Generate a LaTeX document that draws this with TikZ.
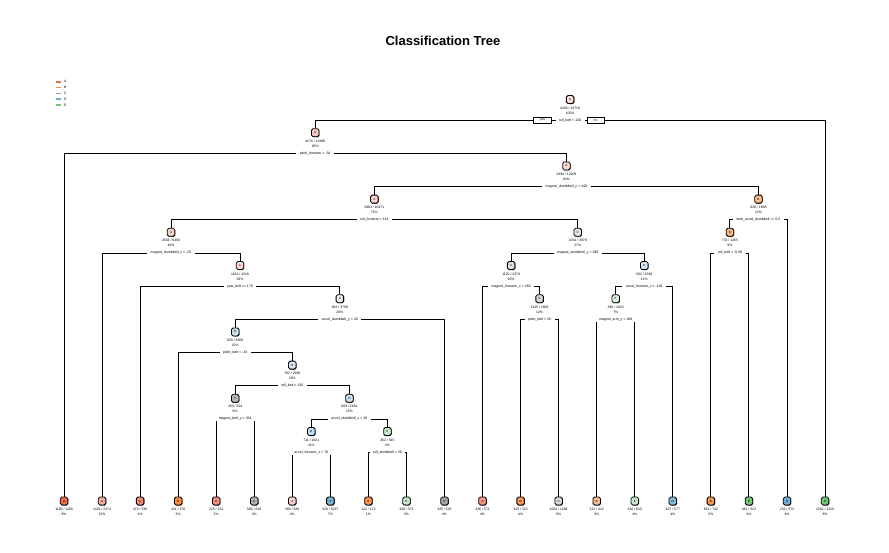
\documentclass[tikz,border=0pt]{standalone}
\usepackage{fontspec}
\setmainfont{Liberation Sans}
\usetikzlibrary{shadows}
\definecolor{cA}{HTML}{EF6A4C}
\definecolor{cB}{HTML}{F88D3F}
\definecolor{cC}{HTML}{9A9A9A}
\definecolor{cD}{HTML}{6BAED6}
\definecolor{cE}{HTML}{74C476}
\newcommand\TNode[7]{%
  \node[treebox,fill=#4] (#1) at (#2,#3) {#5};
  \node[info] (#1c) at (#2,#3+8.3) {#6};
  \node[info] (#1p) at (#2,#3+13.4) {#7};
  \coordinate (#1s) at (#2,#3+20.7);}
\newcommand\TSplit[3]{%
  \draw[edge] (#1s) -| (#2.north);
  \draw[edge] (#1s) -| (#3.north);}
\begin{document}
\begin{tikzpicture}[x=1pt,y=-1pt,
  treebox/.style={draw=black,line width=0.8pt,rounded corners=1.6pt,
    minimum width=7.5pt,minimum height=8pt,inner sep=0pt,
    font=\fontsize{3}{3}\selectfont,
    drop shadow={shadow xshift=0.5pt,shadow yshift=-0.5pt,fill=black!80,opacity=1}},
  info/.style={inner sep=0pt,font=\fontsize{3.4}{3.4}\selectfont},
  splitlab/.style={fill=white,inner xsep=3.5pt,inner ysep=0.8pt,font=\fontsize{3.5}{3.5}\selectfont},
  yn/.style={draw=black,line width=0.9pt,fill=white,minimum width=18pt,minimum height=6.5pt,inner sep=0pt,font=\fontsize{3.4}{3.4}\selectfont},
  edge/.style={line width=0.9pt,black}]
\useasboundingbox (0,0) rectangle (889,552);
\fill[white] (0,0) rectangle (889,552);

\node[font=\bfseries\fontsize{13}{13}\selectfont] (title) at (443,41) {Classification Tree};

% legend
\foreach \c/\l [count=\i] in {cA/A,cB/B,cC/C,cD/D,cE/E}{
  \draw[\c,line width=1.6pt] (56,76+5.8*\i) -- (60.5,76+5.8*\i);
  \node[info,anchor=west] (leg\i) at (64,76+5.8*\i) {\l};
}

% internal nodes
\TNode{root}{570.1}{99.5}{cA!22}{A}{4185 / 14718}{100\%}
\TNode{nS}{315.2}{132.7}{cA!35}{A}{4174 / 13498}{92\%}
\TNode{nR}{566.4}{165.9}{cA!25}{A}{2994 / 12309}{84\%}
\TNode{nO}{374.35}{199.1}{cA!28}{A}{2963 / 10471}{71\%}
\TNode{nQ}{758.4}{199.1}{cB!60}{B}{828 / 1838}{12\%}
\TNode{nI}{171.0}{232.3}{cA!30}{A}{2604 / 6493}{44\%}
\TNode{nN}{577.7}{232.3}{cC!25}{C}{1054 / 3978}{27\%}
\TNode{nP}{729.9}{232.3}{cB!65}{B}{732 / 1265}{9\%}
\TNode{nH}{239.98}{265.5}{cA!25}{A}{1182 / 4319}{29\%}
\TNode{nK}{511.1}{265.5}{cC!30}{C}{1120 / 2379}{16\%}
\TNode{nM}{644.25}{265.5}{cD!30}{D}{502 / 1599}{11\%}
\TNode{nG}{339.86}{298.7}{cC!18}{C}{903 / 3789}{26\%}
\TNode{nJ}{539.6}{298.7}{cC!40}{C}{1125 / 1806}{12\%}
\TNode{nL}{615.7}{298.7}{cE!25}{E}{386 / 1022}{7\%}
\TNode{nF}{235.2}{331.9}{cD!35}{D}{820 / 3266}{22\%}
\TNode{nE}{292.3}{365.1}{cD!30}{D}{782 / 2990}{20\%}
\TNode{nD}{235.2}{398.3}{cC!70}{C}{353 / 824}{6\%}
\TNode{nC}{349.4}{398.3}{cD!35}{D}{803 / 2166}{15\%}
\TNode{nA}{311.3}{431.5}{cD!45}{D}{711 / 1621}{11\%}
\TNode{nB}{387.4}{431.5}{cE!35}{E}{362 / 545}{4\%}

% leaves
\TNode{L0}{64.0}{501}{cA}{A}{1180 / 1189}{8\%}
\TNode{L1}{102.05}{501}{cA!55}{A}{1422 / 2174}{15\%}
\TNode{L2}{140.1}{501}{cA!80}{A}{472 / 530}{4\%}
\TNode{L3}{178.15}{501}{cB}{B}{241 / 276}{2\%}
\TNode{L4}{216.2}{501}{cA!75}{A}{215 / 231}{2\%}
\TNode{L5}{254.25}{501}{cC!80}{C}{560 / 593}{4\%}
\TNode{L6}{292.3}{501}{cA!30}{A}{360 / 584}{4\%}
\TNode{L7}{330.35}{501}{cD!90}{D}{520 / 1037}{7\%}
\TNode{L8}{368.4}{501}{cB!90}{B}{122 / 173}{1\%}
\TNode{L9}{406.45}{501}{cE!40}{E}{330 / 372}{3\%}
\TNode{L10}{444.5}{501}{cC!90}{C}{425 / 523}{4\%}
\TNode{L11}{482.55}{501}{cA!70}{A}{436 / 573}{4\%}
\TNode{L12}{520.6}{501}{cB!90}{B}{415 / 522}{4\%}
\TNode{L13}{558.65}{501}{cC!40}{C}{1004 / 1284}{9\%}
\TNode{L14}{596.7}{501}{cB!60}{B}{221 / 412}{3\%}
\TNode{L15}{634.75}{501}{cE!40}{E}{316 / 610}{4\%}
\TNode{L16}{672.8}{501}{cD!85}{D}{407 / 577}{4\%}
\TNode{L17}{710.85}{501}{cB!90}{B}{622 / 742}{5\%}
\TNode{L18}{748.9}{501}{cE}{E}{281 / 523}{4\%}
\TNode{L19}{786.95}{501}{cD!95}{D}{252 / 573}{4\%}
\TNode{L20}{825.0}{501}{cE}{E}{1210 / 1220}{8\%}

% connectors
\TSplit{root}{nS}{L20}
\TSplit{nS}{L0}{nR}
\TSplit{nR}{nO}{nQ}
\TSplit{nO}{nI}{nN}
\TSplit{nI}{L1}{nH}
\TSplit{nH}{L2}{nG}
\TSplit{nG}{nF}{L10}
\TSplit{nF}{L3}{nE}
\TSplit{nE}{nD}{nC}
\TSplit{nD}{L4}{L5}
\TSplit{nC}{nA}{nB}
\TSplit{nA}{L6}{L7}
\TSplit{nB}{L8}{L9}
\TSplit{nN}{nK}{nM}
\TSplit{nK}{L11}{nJ}
\TSplit{nJ}{L12}{L13}
\TSplit{nM}{nL}{L16}
\TSplit{nL}{L14}{L15}
\TSplit{nQ}{nP}{L19}
\TSplit{nP}{L17}{L18}

% split labels
\node[splitlab] (rootl) at (roots) {roll\_belt < 130};
\node[yn] (yes) at (542.5,120.2) {yes};
\node[yn,minimum width=17pt] (no) at (595.5,120.2) {no};
\node[splitlab] (nSl) at (nSs) {pitch\_forearm < -34};
\node[splitlab] (nRl) at (nRs) {magnet\_dumbbell\_y < 440};
\node[splitlab] (nOl) at (nOs) {roll\_forearm < 124};
\node[splitlab] (nQl) at (nQs) {total\_accel\_dumbbell >= 5.5};
\node[splitlab] (nIl) at (nIs) {magnet\_dumbbell\_z < -25};
\node[splitlab] (nNl) at (nNs) {magnet\_dumbbell\_y < 290};
\node[splitlab] (nPl) at (nPs) {roll\_belt < -0.58};
\node[splitlab] (nHl) at (nHs) {yaw\_belt >= 170};
\node[splitlab] (nKl) at (nKs) {magnet\_forearm\_z < 283};
\node[splitlab] (nMl) at (nMs) {accel\_forearm\_x < -102};
\node[splitlab] (nGl) at (nGs) {accel\_dumbbell\_y < 40};
\node[splitlab] (nJl) at (nJs) {pitch\_belt < 26};
\node[splitlab] (nLl) at (nLs) {magnet\_arm\_y < 188};
\node[splitlab] (nFl) at (nFs) {pitch\_belt < -43};
\node[splitlab] (nEl) at (nEs) {roll\_belt < 126};
\node[splitlab] (nDl) at (nDs) {magnet\_belt\_y < 324};
\node[splitlab] (nCl) at (nCs) {accel\_dumbbell\_z < 28};
\node[splitlab] (nAl) at (nAs) {accel\_forearm\_x < 70};
\node[splitlab] (nBl) at (nBs) {roll\_dumbbell < 38};
\end{tikzpicture}
\end{document}
